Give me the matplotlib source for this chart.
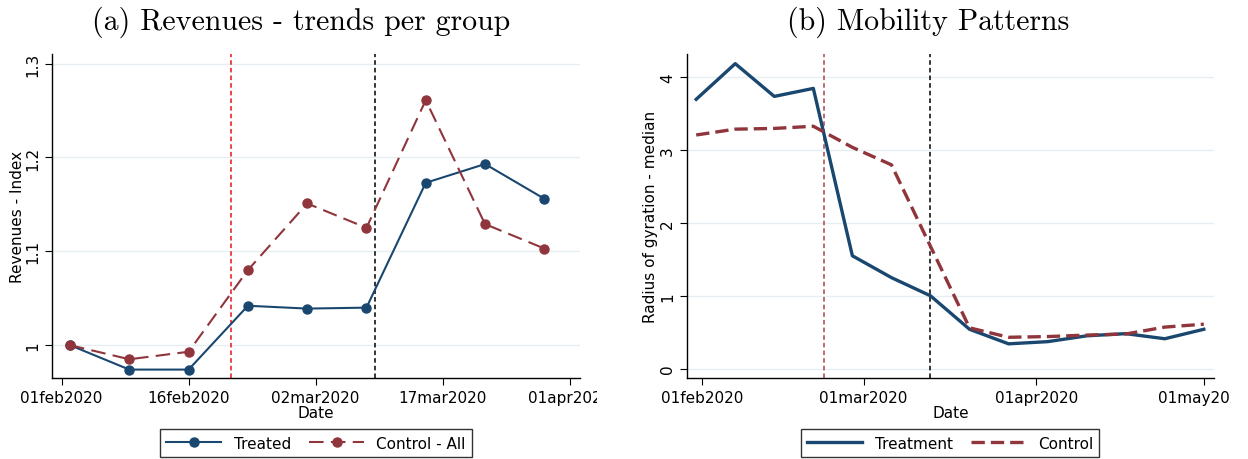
"""
Two-panel figure: revenues by group and mobility patterns (Stata-like style)

"""
import numpy as np
import pandas as pd
import matplotlib
import matplotlib.pyplot as plt
import matplotlib.dates as mdates
from matplotlib.transforms import Bbox, TransformedBbox

matplotlib.use("Agg")

NAVY = "#1a476f"
MAROON = "#90353b"
GRID = "#e6eef1"

# ---- panel (a): revenues, weekly ----
rev_dates = pd.to_datetime(
    ["2020-02-02", "2020-02-09", "2020-02-16", "2020-02-23", "2020-03-01",
     "2020-03-08", "2020-03-15", "2020-03-22", "2020-03-29"]
)
rev_treated = [1.000, 0.974, 0.974, 1.042, 1.039, 1.040, 1.173, 1.193, 1.156]
rev_control = [1.000, 0.985, 0.993, 1.080, 1.151, 1.125, 1.261, 1.129, 1.103]
rev_xticks = pd.to_datetime(["2020-02-01", "2020-02-16", "2020-03-02", "2020-03-17", "2020-04-01"])
rev_xticklabels = ["01feb2020", "16feb2020", "02mar2020", "17mar2020", "01apr2020"]
rev_yticks = [1.0, 1.1, 1.2, 1.3]
rev_yticklabels = ["1", "1.1", "1.2", "1.3"]
rev_vlines = pd.to_datetime(["2020-02-21", "2020-03-09"])

# ---- panel (b): mobility, weekly ----
mob_dates = pd.to_datetime(
    ["2020-01-31", "2020-02-07", "2020-02-14", "2020-02-21", "2020-02-28",
     "2020-03-06", "2020-03-13", "2020-03-20", "2020-03-27", "2020-04-03",
     "2020-04-10", "2020-04-17", "2020-04-24", "2020-05-01"]
)
mob_treatment = [3.70, 4.19, 3.74, 3.85, 1.55, 1.25, 1.00, 0.54, 0.34, 0.37, 0.45, 0.48, 0.41, 0.54]
mob_control = [3.21, 3.29, 3.30, 3.33, 3.04, 2.80, 1.68, 0.56, 0.43, 0.44, 0.46, 0.475, 0.57, 0.61]
mob_xticks = pd.to_datetime(["2020-02-01", "2020-03-01", "2020-04-01", "2020-05-01"])
mob_xticklabels = ["01feb2020", "01mar2020", "01apr2020", "01may2020"]
mob_yticks = [0, 1, 2, 3, 4]
mob_vlines = pd.to_datetime(["2020-02-23", "2020-03-13"])


def style_axis(ax, fig, clip_right):
    """
    Stata-ish axis: left + bottom spines, horizontal grid, rotated y labels

    """
    for side in ["top", "right"]:
        ax.spines[side].set_visible(False)
    for side in ["left", "bottom"]:
        ax.spines[side].set_linewidth(1.0)
    ax.grid(axis="y", color=GRID, linewidth=1.0)
    ax.set_axisbelow(True)
    ax.tick_params(axis="both", labelsize=11, length=5, width=0.8, direction="out")
    ax.tick_params(axis="y", labelrotation=90)
    for lab in ax.get_yticklabels():
        lab.set_va("center")
    ax.set_xlabel("Date", fontsize=11, labelpad=0)

    # cut tick labels at the edge of the sub-graph, like the original
    box = TransformedBbox(Bbox([[0, 0], [clip_right, 1]]), fig.transFigure)
    for lab in ax.get_xticklabels():
        lab.set_clip_box(box)
        lab.set_clip_on(True)


def add_legend(ax):
    leg = ax.legend(loc="upper center", bbox_to_anchor=(0.5, -0.135), ncol=2,
                    fontsize=11, frameon=True, fancybox=False, edgecolor="black",
                    handlelength=3.6, columnspacing=1.2, borderpad=0.4,
                    handletextpad=0.8)
    leg.get_frame().set_linewidth(1.0)


def main():
    plt.rcParams["font.family"] = "DejaVu Sans"
    fig = plt.figure(figsize=(12.48, 4.6), dpi=100)

    ax1 = fig.add_axes([0.0417, 0.176, 0.423, 0.704])
    ax2 = fig.add_axes([0.5502, 0.176, 0.4226, 0.704])

    # panel (a)
    ax1.axvline(rev_vlines[0], color="#e8141b", linestyle=(0, (3, 2)), linewidth=1.1)
    ax1.axvline(rev_vlines[1], color="black", linestyle=(0, (3, 2)), linewidth=1.1)
    ax1.plot(rev_dates, rev_treated, color=NAVY, linewidth=1.5, marker="o",
             markersize=6.5, label="Treated")
    ax1.plot(rev_dates, rev_control, color=MAROON, linewidth=1.5, marker="o",
             markersize=6.5, linestyle=(0, (7, 3.5)), label="Control - All")
    ax1.set_xlim(pd.Timestamp("2020-01-30 21:00"), pd.Timestamp("2020-04-02 05:00"))
    ax1.set_ylim(0.965, 1.310)
    ax1.set_xticks(rev_xticks)
    ax1.set_xticklabels(rev_xticklabels)
    ax1.set_yticks(rev_yticks)
    ax1.set_yticklabels(rev_yticklabels)
    ax1.set_ylabel("Revenues - Index", fontsize=11, labelpad=0)
    style_axis(ax1, fig, 0.478)
    add_legend(ax1)

    # panel (b)
    ax2.axvline(mob_vlines[0], color="#a8444a", linestyle=(0, (3, 2)), linewidth=1.1)
    ax2.axvline(mob_vlines[1], color="black", linestyle=(0, (3, 2)), linewidth=1.1)
    ax2.plot(mob_dates, mob_treatment, color=NAVY, linewidth=2.4, label="Treatment")
    ax2.plot(mob_dates, mob_control, color=MAROON, linewidth=2.4,
             linestyle=(0, (4, 1.8)), label="Control")
    ax2.set_xlim(pd.Timestamp("2020-01-29 07:00"), pd.Timestamp("2020-05-02 20:00"))
    ax2.set_ylim(-0.13, 4.32)
    ax2.set_xticks(mob_xticks)
    ax2.set_xticklabels(mob_xticklabels)
    ax2.set_yticks(mob_yticks)
    ax2.set_ylabel("Radius of gyration - median", fontsize=11, labelpad=1)
    style_axis(ax2, fig, 0.986)
    add_legend(ax2)

    # titles in a LaTeX-like serif
    fig.text(0.241, 0.952, "(a) Revenues - trends per group", fontsize=21.5,
             family="cmr10", ha="center", va="center")
    fig.text(0.744, 0.952, "(b) Mobility Patterns", fontsize=21.5,
             family="cmr10", ha="center", va="center")

    fig.savefig("out.png", dpi=100)


if __name__ == "__main__":
    main()
